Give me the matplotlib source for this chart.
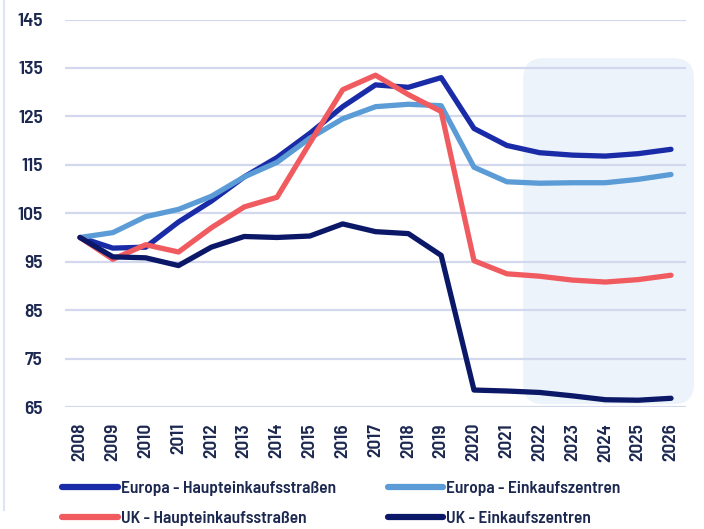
import matplotlib
matplotlib.use("Agg")
import matplotlib.pyplot as plt
from matplotlib.patches import FancyBboxPatch
from matplotlib.lines import Line2D

years = list(range(2008, 2027))
year_labels = [str(y) for y in years]

eu_high_street = [100, 97.8, 98.0, 103.2, 107.5, 112.5, 116.5, 121.5, 127.0, 131.5,
                  131.0, 133.0, 122.5, 119.0, 117.5, 117.0, 116.8, 117.3, 118.2]
eu_shopping_centres = [100, 101.0, 104.3, 105.8, 108.5, 112.5, 115.5, 120.5, 124.5, 127.0,
                       127.5, 127.2, 114.5, 111.5, 111.2, 111.3, 111.3, 112.0, 113.0]
uk_high_street = [100, 95.5, 98.5, 97.0, 102.0, 106.3, 108.3, 119.5, 130.5, 133.5,
                  129.5, 126.0, 95.2, 92.5, 92.0, 91.2, 90.8, 91.3, 92.2]
uk_shopping_centres = [100, 96.0, 95.8, 94.2, 98.0, 100.2, 100.0, 100.3, 102.8, 101.2,
                       100.8, 96.3, 68.5, 68.3, 68.0, 67.3, 66.5, 66.4, 66.8]

series_names = ["Europa - Haupteinkaufsstraßen", "Europa - Einkaufszentren",
                "UK - Haupteinkaufsstraßen", "UK - Einkaufszentren"]
yticks = [65, 75, 85, 95, 105, 115, 125, 135, 145]
forecast_start, forecast_end = 2021.5, 2026.7
forecast_low, forecast_high = 65.6, 137.0

colors = ["#1a2ba8", "#5b9cd6", "#f05b60", "#0b1868"]
text_color = "#1c2850"
font = ["Barlow Semi Condensed", "DejaVu Sans"]
plt.rcParams["font.family"] = font
plt.rcParams["font.weight"] = 600

fig = plt.figure(figsize=(7.04, 5.29), dpi=100)
ax = fig.add_axes([65/704, 1-407/529, (686-65)/704, (407-19.5)/529])

ax.set_xlim(2008 - 15/32.83, 2026 + 15/32.83)
ax.set_ylim(65, 145)

# forecast shaded area
xpp = 1/32.83
ypp = 1/4.84
box = FancyBboxPatch((forecast_start, forecast_low), forecast_end - forecast_start,
                     forecast_high - forecast_low,
                     boxstyle="round,pad=0,rounding_size=%f" % (20*xpp),
                     mutation_aspect=ypp/xpp,
                     facecolor="#edf3fa", edgecolor="none", zorder=0, clip_on=False)
ax.add_patch(box)

for yv in yticks:
    ax.axhline(yv, color="#d2d9ef", lw=1.6, zorder=1)

data = [eu_high_street, eu_shopping_centres, uk_high_street, uk_shopping_centres]
handles = []
for vals, c, name in zip(data, colors, series_names):
    h, = ax.plot(years, vals, color=c, lw=3.8, label=name, solid_capstyle="round",
                 solid_joinstyle="round", zorder=3, clip_on=False)
    handles.append(h)

ax.set_xticks(years)
ax.set_xticklabels(year_labels, rotation=90, fontsize=14, color=text_color)
ax.set_yticks(yticks)
ax.set_yticklabels([str(v) for v in yticks], fontsize=14, color=text_color)
ax.tick_params(length=0)
ax.tick_params(axis="x", pad=11.5)
ax.tick_params(axis="y", pad=16)
for s in ax.spines.values():
    s.set_visible(False)

order = [0, 2, 1, 3]
leg = ax.legend([handles[i] for i in order], [series_names[i] for i in order],
                loc="upper left", bbox_to_anchor=(62/704, 1-481/529), bbox_transform=fig.transFigure,
                ncol=2, frameon=False, fontsize=12.5, handlelength=3.2, handletextpad=0.17,
                columnspacing=3.0, labelspacing=0.85, borderaxespad=0, borderpad=0)
for t in leg.get_texts():
    t.set_color(text_color)
for h in leg.legend_handles:
    h.set_linewidth(4.5)

fig.add_artist(Line2D([4/704, 4/704], [1-510/529, 1], transform=fig.transFigure,
                      color="#dce6f5", lw=1.5))

fig.savefig("out.png", dpi=100)
